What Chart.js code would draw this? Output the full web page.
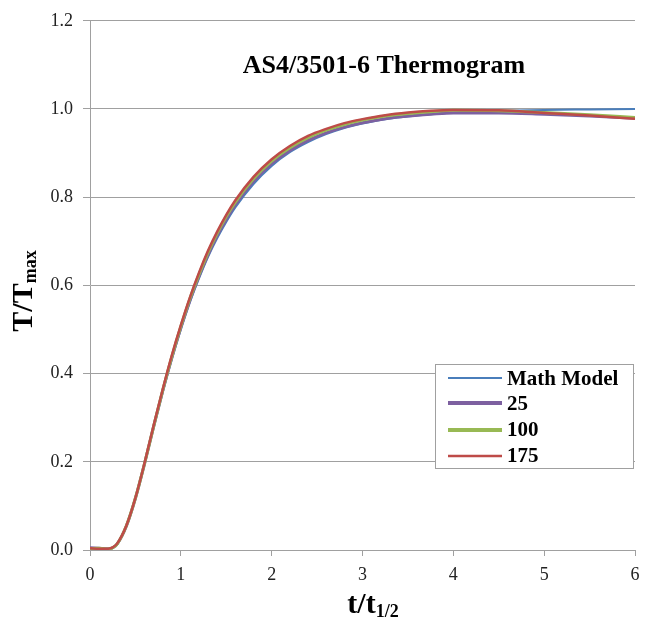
<!DOCTYPE html>
<html><head><meta charset="utf-8">
<script src="https://cdn.jsdelivr.net/npm/chart.js@4.4.0/dist/chart.umd.min.js"></script>
<style>html,body{margin:0;padding:0;background:#fff}#wrap{width:652px;height:620px}</style>
</head><body><div id="wrap"><canvas id="c" width="652" height="620"></canvas></div>
<script>
// ---- data ----
const tValues   = [0, 0.1, 0.2, 0.25, 0.3, 0.4, 0.5, 0.6, 0.7, 0.8, 0.9, 1.0, 1.1, 1.2, 1.3, 1.4, 1.5, 1.6, 1.8, 2.0, 2.2, 2.4, 2.6, 2.8, 3.0, 3.25, 3.5, 3.75, 4.0, 4.5, 5.0, 5.5, 6.0];
const mathModel = [0, 0, 0.001, 0.004, 0.013, 0.054, 0.117, 0.194, 0.277, 0.357, 0.432, 0.500, 0.562, 0.616, 0.665, 0.707, 0.744, 0.777, 0.830, 0.871, 0.902, 0.925, 0.943, 0.957, 0.967, 0.977, 0.983, 0.988, 0.992, 0.996, 0.998, 0.999, 1.000];
const run25     = [0.005, 0.004, 0.003, 0.005, 0.014, 0.054, 0.117, 0.195, 0.279, 0.360, 0.435, 0.504, 0.566, 0.621, 0.670, 0.713, 0.750, 0.783, 0.836, 0.876, 0.906, 0.929, 0.946, 0.959, 0.969, 0.978, 0.984, 0.988, 0.991, 0.991, 0.988, 0.984, 0.979];
const run100    = [0.003, 0.004, 0.002, 0.005, 0.014, 0.055, 0.118, 0.196, 0.280, 0.362, 0.438, 0.507, 0.570, 0.625, 0.675, 0.718, 0.756, 0.789, 0.842, 0.882, 0.912, 0.935, 0.952, 0.965, 0.975, 0.984, 0.990, 0.994, 0.997, 0.996, 0.992, 0.987, 0.981];
const run175    = [0.004, 0.003, 0.003, 0.006, 0.015, 0.055, 0.118, 0.197, 0.282, 0.364, 0.441, 0.510, 0.573, 0.629, 0.679, 0.722, 0.760, 0.793, 0.846, 0.886, 0.916, 0.939, 0.955, 0.968, 0.977, 0.986, 0.992, 0.996, 0.998, 0.997, 0.991, 0.985, 0.978];
const seriesNames = ['Math Model', '25', '100', '175'];
const xTicks = [0, 1, 2, 3, 4, 5, 6];
const yTicks = [0, 0.2, 0.4, 0.6, 0.8, 1.0, 1.2];
const chartTitle = 'AS4/3501-6 Thermogram';

// ---- styles ----
const colors = ['#4A7EBB', '#7D60A0', '#98B954', '#BE4B48'];
const widths = [2, 3, 3, 2.5];
const legendWidths = [2, 4, 4, 2.5];
const serif = '"Liberation Serif", "Times New Roman", serif';
const gridGrey = '#A0A0A0';

const seriesValues = [mathModel, run25, run100, run175];
const toPoints = ys => tValues.map((t, i) => ({x: t, y: ys[i]}));

const datasets = seriesValues.map((ys, i) => ({
  label: seriesNames[i],
  data: toPoints(ys),
  borderColor: colors[i],
  backgroundColor: colors[i],
  borderWidth: widths[i],
  pointRadius: 0,
  showLine: true,
  cubicInterpolationMode: 'monotone',
  order: seriesValues.length - i
}));

function drawSub(ctx, main, sub, mainFont, subFont, drop) {
  ctx.font = mainFont; const w1 = ctx.measureText(main).width;
  ctx.font = subFont; const w2 = ctx.measureText(sub).width;
  const total = w1 + w2;
  ctx.textAlign = 'left';
  ctx.font = mainFont; ctx.fillText(main, -total / 2, 0);
  ctx.font = subFont; ctx.fillText(sub, -total / 2 + w1, drop);
}

const overlay = {
  id: 'overlay',
  afterDatasetsDraw(chart) {
    const ctx = chart.ctx;
    ctx.save();
    ctx.fillStyle = '#000';
    ctx.textBaseline = 'alphabetic';
    // title
    ctx.textAlign = 'center';
    ctx.font = 'bold 26px ' + serif;
    ctx.fillText(chartTitle, 384, 73);

    // legend box
    const bx = 435.5, by = 364.5, bw = 198, bh = 104;
    ctx.fillStyle = '#fff';
    ctx.fillRect(bx, by, bw, bh);
    ctx.strokeStyle = '#A0A0A0'; ctx.lineWidth = 1;
    ctx.strokeRect(bx, by, bw, bh);
    const lineY = [378, 403, 430, 456];
    const textY = [385, 410, 436, 462];
    ctx.font = 'bold 21px ' + serif;
    ctx.textAlign = 'left';
    seriesNames.forEach((name, i) => {
      ctx.strokeStyle = colors[i]; ctx.lineWidth = legendWidths[i];
      ctx.beginPath(); ctx.moveTo(448, lineY[i]); ctx.lineTo(502, lineY[i]); ctx.stroke();
      ctx.fillStyle = '#000';
      ctx.fillText(name, 507, textY[i]);
    });

    // y axis title
    ctx.save();
    ctx.translate(32, 291); ctx.rotate(-Math.PI / 2);
    ctx.fillStyle = '#000';
    drawSub(ctx, 'T/T', 'max', 'bold 30px ' + serif, 'bold 18px ' + serif, 4);
    ctx.restore();

    // x axis title
    ctx.save();
    ctx.translate(373, 613);
    ctx.fillStyle = '#000';
    drawSub(ctx, 't/t', '1/2', 'bold 30px ' + serif, 'bold 18px ' + serif, 4);
    ctx.restore();
    ctx.restore();
  }
};

new Chart(document.getElementById('c'), {
  type: 'scatter',
  data: { datasets },
  options: {
    responsive: false,
    animation: false,
    events: [],
    layout: { padding: { left: 0, right: 17, top: 20, bottom: 0 } },
    plugins: { legend: { display: false }, tooltip: { enabled: false }, title: { display: false } },
    scales: {
      x: {
        type: 'linear', min: 0, max: 6,
        afterBuildTicks: s => { s.ticks = xTicks.map(v => ({value: v})); },
        afterFit: s => { s.height = 70; },
        border: { color: gridGrey, width: 1 },
        grid: { drawOnChartArea: false, drawTicks: true, tickLength: 6, color: gridGrey },
        ticks: { font: { family: serif, size: 18 }, color: '#222', padding: 8, maxRotation: 0,
                 callback: v => String(v) }
      },
      y: {
        type: 'linear', min: 0, max: 1.2,
        afterBuildTicks: s => { s.ticks = yTicks.map(v => ({value: v})); },
        afterFit: s => { s.width = 90; },
        border: { color: gridGrey, width: 1 },
        grid: { drawOnChartArea: true, drawTicks: true, tickLength: 7, color: gridGrey },
        ticks: { font: { family: serif, size: 18 }, color: '#222', padding: 10,
                 callback: v => Number(v).toFixed(1) }
      }
    }
  },
  plugins: [overlay]
});
</script>
</body></html>
